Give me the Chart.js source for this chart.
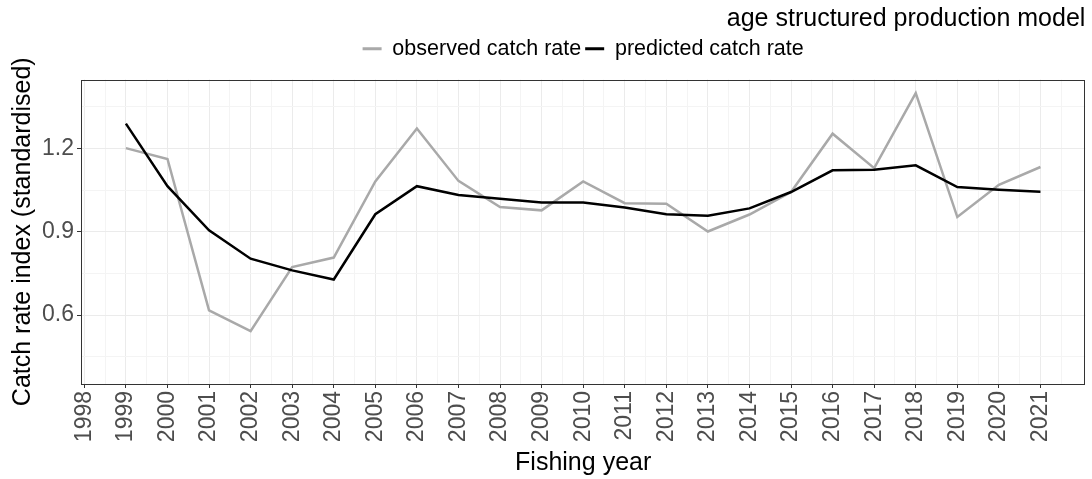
<!DOCTYPE html>
<html>
<head>
<meta charset="utf-8">
<title>Catch rate index</title>
<script src="https://cdn.jsdelivr.net/npm/chart.js@4/dist/chart.umd.min.js"></script>
<style>
  html, body { margin: 0; padding: 0; background: #ffffff; }
  canvas { display: block; }
</style>
</head>
<body>
<canvas id="catchChart" width="1092" height="479"></canvas>
<script>
// Standardised catch rate index by fishing year
const years = [1999, 2000, 2001, 2002, 2003, 2004, 2005, 2006, 2007, 2008, 2009, 2010,
               2011, 2012, 2013, 2014, 2015, 2016, 2017, 2018, 2019, 2020, 2021];
const observed = [1.201, 1.162, 0.617, 0.542, 0.773, 0.807, 1.081, 1.272, 1.083, 0.989, 0.977, 1.081,
                  1.003, 1.001, 0.901, 0.962, 1.043, 1.253, 1.129, 1.399, 0.953, 1.069, 1.133];
const predicted = [1.289, 1.064, 0.905, 0.803, 0.761, 0.728, 0.963, 1.064, 1.032, 1.019, 1.005, 1.005,
                   0.987, 0.963, 0.958, 0.984, 1.043, 1.121, 1.123, 1.139, 1.061, 1.051, 1.044];

// axis breaks
const xTickYears = [1998, 1999, 2000, 2001, 2002, 2003, 2004, 2005, 2006, 2007, 2008, 2009,
                    2010, 2011, 2012, 2013, 2014, 2015, 2016, 2017, 2018, 2019, 2020, 2021];
const yTickValues = [0.6, 0.9, 1.2];

const FONT = "'Liberation Sans', Arial, sans-serif";
const GRID = "#ebebeb";
const GRID_MINOR = "#f4f4f4";
const DARK = "#333333";

function isMajorY(v) {
  return yTickValues.some(t => Math.abs(t - v) < 1e-6);
}

// border round the whole plotting panel
const panelBorder = {
  id: "panelBorder",
  afterDatasetsDraw(chart) {
    const a = chart.chartArea;
    const ctx = chart.ctx;
    ctx.save();
    ctx.strokeStyle = DARK;
    ctx.lineWidth = 1;
    ctx.strokeRect(Math.round(a.left) + 0.5, Math.round(a.top) + 0.5,
                   Math.round(a.right - a.left) - 1, Math.round(a.bottom - a.top) - 1);
    ctx.restore();
  }
};

const ctx = document.getElementById("catchChart").getContext("2d");

const chart = new Chart(ctx, {
  type: "line",
  data: {
    datasets: [
      {
        label: "observed catch rate",
        data: years.map((y, i) => ({ x: y, y: observed[i] })),
        borderColor: "#a9a9a9",
        backgroundColor: "#a9a9a9",
        borderWidth: 2.5,
        pointRadius: 0,
        tension: 0,
        order: 2
      },
      {
        label: "predicted catch rate",
        data: years.map((y, i) => ({ x: y, y: predicted[i] })),
        borderColor: "#000000",
        backgroundColor: "#000000",
        borderWidth: 2.5,
        pointRadius: 0,
        tension: 0,
        order: 1
      }
    ]
  },
  options: {
    responsive: false,
    animation: false,
    layout: { padding: 0 },
    plugins: {
      tooltip: { enabled: false },
      title: {
        display: true,
        text: "age structured production model",
        align: "end",
        fullSize: false,
        color: "#000000",
        font: { family: FONT, size: 25, weight: "normal" },
        padding: { top: 4, bottom: 0 }
      },
      legend: {
        display: true,
        position: "top",
        align: "center",
        fullSize: false,
        labels: {
          color: "#000000",
          font: { family: FONT, size: 21.5 },
          boxWidth: 19,
          boxHeight: 3,
          padding: 4,
          generateLabels(chart) {
            return Chart.defaults.plugins.legend.labels.generateLabels(chart)
              .map(l => ({ ...l, lineWidth: 0 }))
              .sort((a, b) => a.datasetIndex - b.datasetIndex);
          }
        }
      }
    },
    scales: {
      x: {
        type: "linear",
        position: "bottom",
        min: 1997.92,
        max: 2022.08,
        afterBuildTicks(scale) {
          const ticks = [];
          xTickYears.forEach(y => { ticks.push({ value: y }); ticks.push({ value: y + 0.5 }); });
          scale.ticks = ticks;
        },
        afterFit(scale) { scale.height = 95; },
        border: { display: false },
        grid: {
          color: c => Number.isInteger(c.tick.value) ? GRID : GRID_MINOR,
          lineWidth: 1,
          tickColor: c => Number.isInteger(c.tick.value) ? DARK : "rgba(0,0,0,0)",
          tickLength: 4,
          tickWidth: 1
        },
        ticks: {
          autoSkip: false,
          minRotation: 90,
          maxRotation: 90,
          padding: 3,
          color: "#4d4d4d",
          font: { family: FONT, size: 23 },
          callback: v => Number.isInteger(v) ? String(v) : ""
        },
        title: {
          display: true,
          text: "Fishing year",
          color: "#000000",
          font: { family: FONT, size: 25 },
          padding: { top: 0, bottom: 1 }
        }
      },
      xTop: {
        type: "linear",
        position: "top",
        display: true,
        border: { display: false },
        grid: { display: false },
        ticks: { display: false },
        afterFit(scale) { scale.height = 10; }
      },
      y: {
        type: "linear",
        min: 0.352,
        max: 1.448,
        afterBuildTicks(scale) {
          scale.ticks = [0.45, 0.6, 0.75, 0.9, 1.05, 1.2, 1.35].map(v => ({ value: v }));
        },
        afterFit(scale) { scale.width = 81; },
        border: { display: false },
        grid: {
          color: c => isMajorY(c.tick.value) ? GRID : GRID_MINOR,
          lineWidth: 1,
          tickColor: c => isMajorY(c.tick.value) ? DARK : "rgba(0,0,0,0)",
          tickLength: 4,
          tickWidth: 1
        },
        ticks: {
          padding: 3,
          color: "#4d4d4d",
          font: { family: FONT, size: 23 },
          callback: v => isMajorY(v) ? v.toFixed(1) : ""
        },
        title: {
          display: true,
          text: "Catch rate index (standardised)",
          color: "#000000",
          font: { family: FONT, size: 25 },
          padding: { top: 8, bottom: 0 }
        }
      }
    }
  },
  plugins: [panelBorder]
});
</script>
</body>
</html>
